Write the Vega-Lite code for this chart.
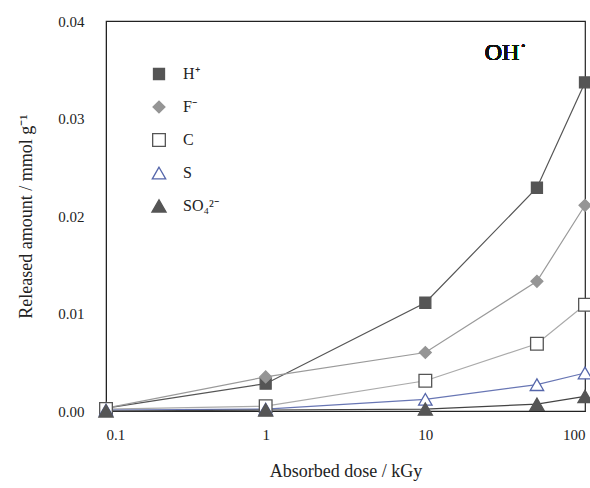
{
  "$schema": "https://vega.github.io/schema/vega-lite/v6.json",
  "width": 479,
  "height": 390,
  "autosize": {"type": "none"},
  "padding": {"left": 106, "top": 21, "right": 5, "bottom": 77},
  "background": "white",
  "config": {
    "view": {"stroke": "#222", "strokeWidth": 1.2},
    "axis": {"grid": false, "ticks": false, "domainColor": "#222", "labelFontSize": 15, "titleFontSize": 18, "labelColor": "#222", "titleColor": "#222", "titleFontWeight": "normal"},
    "legend": {"orient": "top-left", "offset": 45, "labelFont": "Liberation Serif", "labelFontSize": 16, "labelColor": "#222", "labelOffset": 16, "rowPadding": 15, "symbolStrokeWidth": 1.3, "symbolOpacity": 1}
  },
  "data": {"values": [
    {"dose": 0.1, "amount": 0.0003, "ion": "H⁺"},
    {"dose": 1, "amount": 0.0028, "ion": "H⁺"},
    {"dose": 10, "amount": 0.0111, "ion": "H⁺"},
    {"dose": 50, "amount": 0.0229, "ion": "H⁺"},
    {"dose": 100, "amount": 0.0337, "ion": "H⁺"},
    {"dose": 0.1, "amount": 0.0003, "ion": "F⁻"},
    {"dose": 1, "amount": 0.0035, "ion": "F⁻"},
    {"dose": 10, "amount": 0.0060, "ion": "F⁻"},
    {"dose": 50, "amount": 0.0133, "ion": "F⁻"},
    {"dose": 100, "amount": 0.0211, "ion": "F⁻"},
    {"dose": 0.1, "amount": 0.0002, "ion": "C"},
    {"dose": 1, "amount": 0.0005, "ion": "C"},
    {"dose": 10, "amount": 0.0031, "ion": "C"},
    {"dose": 50, "amount": 0.0069, "ion": "C"},
    {"dose": 100, "amount": 0.0109, "ion": "C"},
    {"dose": 0.1, "amount": 0.0001, "ion": "S"},
    {"dose": 1, "amount": 0.0002, "ion": "S"},
    {"dose": 10, "amount": 0.0012, "ion": "S"},
    {"dose": 50, "amount": 0.0027, "ion": "S"},
    {"dose": 100, "amount": 0.0039, "ion": "S"},
    {"dose": 0.1, "amount": 0.0, "ion": "SO₄²⁻"},
    {"dose": 1, "amount": 0.0001, "ion": "SO₄²⁻"},
    {"dose": 10, "amount": 0.0002, "ion": "SO₄²⁻"},
    {"dose": 50, "amount": 0.0007, "ion": "SO₄²⁻"},
    {"dose": 100, "amount": 0.0015, "ion": "SO₄²⁻"}
  ]},
  "encoding": {
    "x": {"field": "dose", "type": "quantitative", "scale": {"type": "log", "domain": [0.1, 100]},
      "axis": {"values": [0.1, 1, 10, 100], "labelExpr": "datum.value < 1 ? '0.1' : format(datum.value, 'd')", "labelPadding": 16, "title": "Absorbed dose / kGy", "titlePadding": 20, "labelFont": "Liberation Serif", "titleFont": "Liberation Serif"}},
    "y": {"field": "amount", "type": "quantitative", "scale": {"domain": [0, 0.04], "nice": false},
      "axis": {"values": [0, 0.01, 0.02, 0.03, 0.04], "format": ".2f", "labelPadding": 22, "title": "Released amount / mmol g⁻¹", "titlePadding": 22, "labelFont": "Liberation Serif", "titleFont": "Liberation Serif"}}
  },
  "layer": [
    {
      "mark": {"type": "line", "strokeWidth": 1.2},
      "encoding": {
        "color": {"field": "ion", "type": "nominal", "legend": null,
          "scale": {"domain": ["SO₄²⁻", "S", "C", "F⁻", "H⁺"], "range": ["#444444", "#6876b4", "#aaaaaa", "#9a9a9a", "#555555"]}},
        "detail": {"field": "ion"}
      }
    },
    {
      "mark": {"type": "point", "filled": true, "opacity": 1, "strokeWidth": 1.3},
      "encoding": {
        "fill": {"field": "ion", "type": "nominal", "title": null,
          "scale": {"domain": ["H⁺", "F⁻", "C", "S", "SO₄²⁻"], "range": ["#555555", "#959595", "#ffffff", "#ffffff", "#555555"]},
          "legend": {"labelFontSize": 16}},
        "stroke": {"field": "ion", "type": "nominal", "title": null,
          "scale": {"domain": ["H⁺", "F⁻", "C", "S", "SO₄²⁻"], "range": ["#555555", "#959595", "#555555", "#5566aa", "#555555"]},
          "legend": {"labelFontSize": 16}},
        "size": {"field": "ion", "type": "nominal", "title": null,
          "scale": {"domain": ["H⁺", "F⁻", "C", "S", "SO₄²⁻"], "range": [121, 200, 121, 150, 150]},
          "legend": {"labelFontSize": 16}},
        "shape": {"field": "ion", "type": "nominal", "title": null,
          "scale": {"domain": ["H⁺", "F⁻", "C", "S", "SO₄²⁻"], "range": ["square", "diamond", "square", "triangle-up", "triangle-up"]},
          "legend": {"labelFontSize": 16,
            "encode": {"symbols": {"update": {
              "shape": {"signal": "datum.value === 'F⁻' ? 'M-2.5,0H-1M1,0H2.5M-1,0L0,-1L1,0L0,1Z' : (datum.value === 'S' || datum.value === 'SO₄²⁻') ? 'M-2.9,0H-0.6M0.6,0H2.9M0,-0.87L1,0.87L-1,0.87Z' : 'M-3.2,0H-1M1,0H3.2M-1,-1H1V1H-1Z'"}}}}}}
      }
    },
    {
      "mark": {"type": "text", "font": "Liberation Serif", "fontSize": 24, "fontWeight": "normal", "align": "center", "baseline": "alphabetic", "color": "#111"},
      "encoding": {
        "x": {"datum": 32},
        "y": {"datum": 0.036},
        "text": {"value": "OH˙"}
      }
    }
  ]
}
